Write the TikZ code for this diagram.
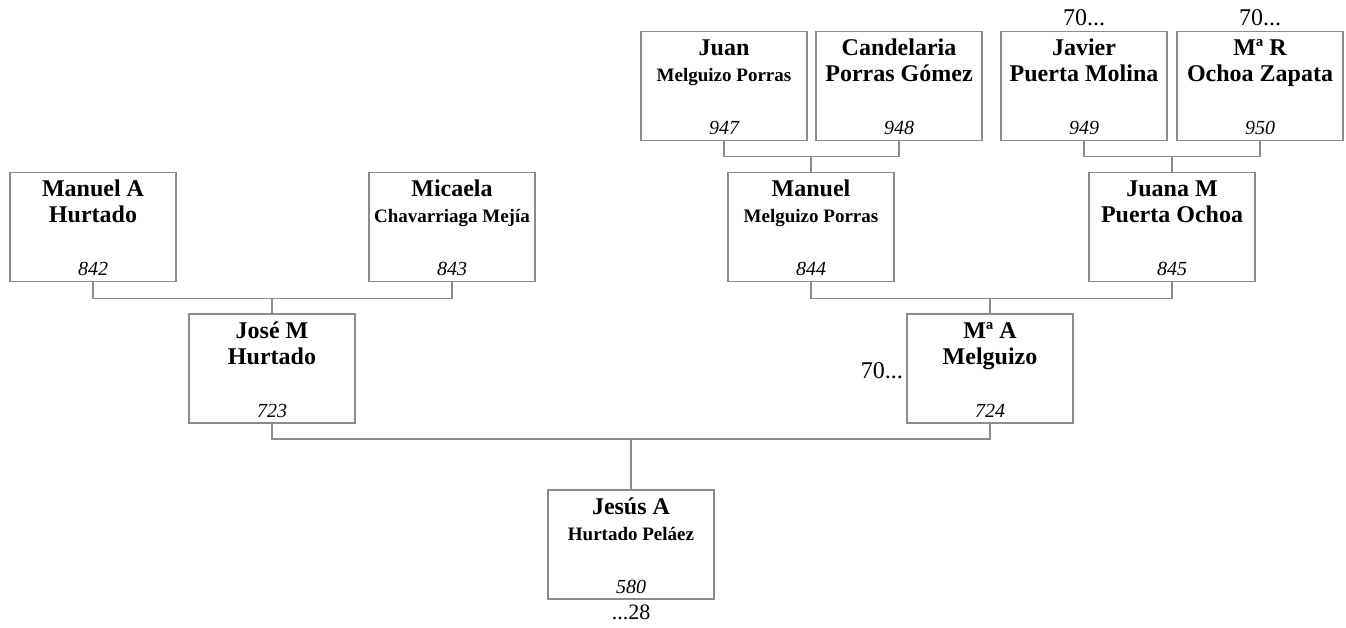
\documentclass[tikz,border=0pt]{standalone}
\usepackage{fontspec}
\setmainfont{Liberation Serif}
\definecolor{boxgray}{HTML}{8C8C8C}
\definecolor{linegray}{HTML}{8C8C8C}
\tikzset{
 card/.style={draw=boxgray, line width=1.4pt, minimum width=166pt, minimum height=109pt, inner sep=0pt, outer sep=0pt, anchor=north west},
 link/.style={draw=linegray, line width=1.2pt},
 big/.style={font=\fontsize{24}{28}\selectfont\bfseries, anchor=base, inner sep=0pt},
 small/.style={font=\fontsize{19}{22}\selectfont\bfseries, anchor=base, inner sep=0pt},
 num/.style={font=\fontsize{20}{24}\selectfont\itshape, anchor=base, inner sep=0pt},
 note/.style={font=\fontsize{24}{28}\selectfont, inner sep=0pt},
 notesmall/.style={font=\fontsize{22}{26}\selectfont, inner sep=0pt},
}
\newcommand\famcard[7]{%
 \node[card] (#1) at (#2,#3) {};
 \node[big, yshift=-24pt] (#1-a) at (#1.north) {#4};
 \node[#5, yshift=-50.5pt] (#1-b) at (#1.north) {#6};
 \node[num, yshift=-103.5pt] (#1-c) at (#1.north) {#7};
}
\begin{document}
\begin{tikzpicture}[x=1pt,y=-1pt]
\useasboundingbox (0,0) rectangle (1346,628);
\famcard{manA}{10}{172.5}{Manuel A}{big}{Hurtado}{842}
\famcard{mic}{369}{172.5}{Micaela}{small}{Chavarriaga Mejía}{843}
\famcard{jose}{189}{314}{José M}{big}{Hurtado}{723}
\famcard{maA}{907}{314}{Mª A}{big}{Melguizo}{724}
\famcard{jesus}{548}{490}{Jesús A}{small}{Hurtado Peláez}{580}
\famcard{juan}{641}{31.5}{Juan}{small}{Melguizo Porras}{947}
\famcard{cand}{816}{31.5}{Candelaria}{big}{Porras Gómez}{948}
\famcard{jav}{1001}{31.5}{Javier}{big}{Puerta Molina}{949}
\famcard{mar}{1177}{31.5}{Mª R}{big}{Ochoa Zapata}{950}
\famcard{manM}{728}{172.5}{Manuel}{small}{Melguizo Porras}{844}
\famcard{juana}{1089}{172.5}{Juana M}{big}{Puerta Ochoa}{845}
% notes
\node[note, anchor=base east] (n1) at ([xshift=-4pt,yshift=-64pt]maA.north west) {70...};
\node[note, anchor=base] (n2) at ([yshift=5.7pt]jav.north) {70...};
\node[note, anchor=base] (n3) at ([yshift=5.7pt]mar.north) {70...};
\node[notesmall, anchor=base] (n4) at ([yshift=-20.5pt]jesus.south) {...28};
% connectors
\draw[link] (juan.south) -- (juan.south |- 0,156.7) -| (cand.south);
\draw[link] (manM.north) -- (manM.north |- 0,156.7);
\draw[link] (jav.south) -- (jav.south |- 0,156.7) -| (mar.south);
\draw[link] (juana.north) -- (juana.north |- 0,156.7);
\draw[link] (manA.south) -- (manA.south |- 0,298.3) -| (mic.south);
\draw[link] (jose.north) -- (jose.north |- 0,298.3);
\draw[link] (manM.south) -- (manM.south |- 0,298.3) -| (juana.south);
\draw[link] (maA.north) -- (maA.north |- 0,298.3);
\draw[link] (jose.south) -- (jose.south |- 0,439) -| (maA.south);
\draw[link] (jesus.north) -- (jesus.north |- 0,439);
\end{tikzpicture}
\end{document}
